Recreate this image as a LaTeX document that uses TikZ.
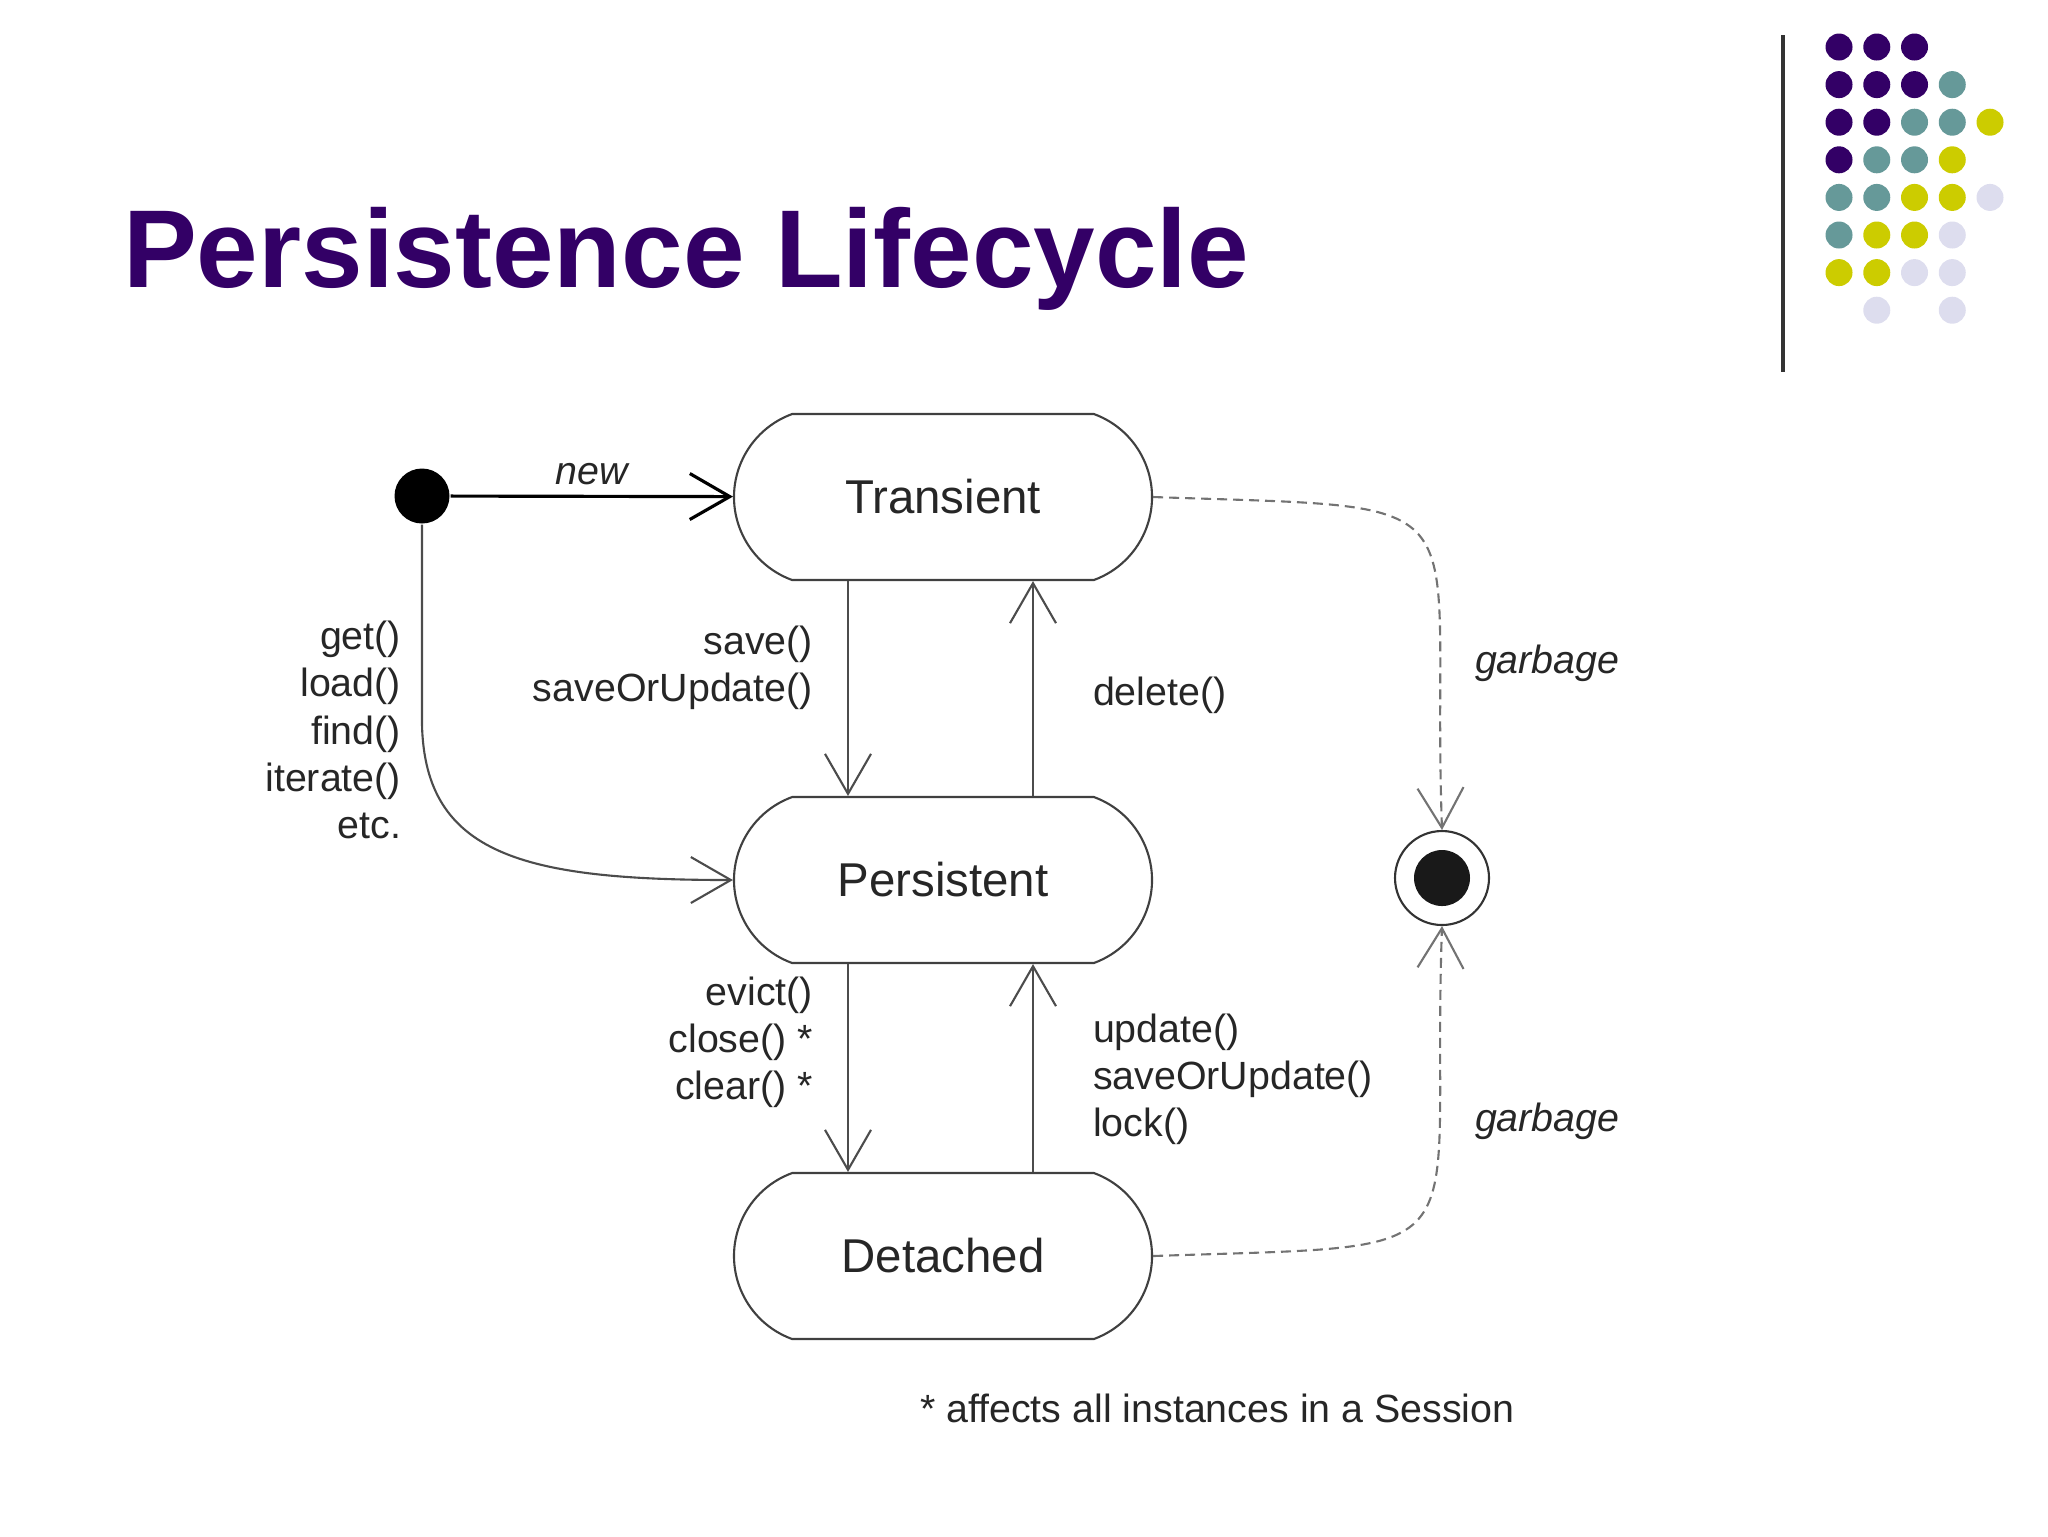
\documentclass[tikz,border=0pt]{standalone}
\usepackage{fontspec}
\setmainfont{Liberation Sans}
\usetikzlibrary{arrows.meta, positioning, shapes.misc}

\definecolor{titlepurple}{HTML}{330066}
\definecolor{dotP}{HTML}{330066}
\definecolor{dotT}{HTML}{669999}
\definecolor{dotY}{HTML}{CCCC00}
\definecolor{dotL}{HTML}{DDDDEE}

\begin{document}
\begin{tikzpicture}[
  x=0.1mm, y=-0.1mm,
  line width=0.6pt,
  state/.style={draw=black!75, rounded rectangle, rounded rectangle arc length=140,
    minimum width=41.8mm, minimum height=16.6mm, inner sep=0pt,
    font=\fontsize{13.5}{16}\selectfont, text=black!85},
  lbl/.style={font=\fontsize{11.2}{13.4}\selectfont, inner sep=0pt, text=black!85},
  trans/.style={draw=black!70, -{Straight Barb[length=4mm, width=4.6mm]}},
  gc/.style={trans, draw=black!55, dash pattern=on 1mm off 0.6mm},
  dot/.style={fill, circle, inner sep=0pt},
]
  \useasboundingbox (0,0) rectangle (2048,1536);

  % Title and slide decoration
  \node[anchor=base west, inner sep=0pt, text=titlepurple,
        font=\fontsize{31.5}{36}\selectfont\bfseries] (title) at (122,287) {Persistence Lifecycle};
  \draw[line width=1.2pt, black!80] (1783,35) -- (1783,372);
  \foreach \c [count=\i from 0] in {P,P,P,N,N, P,P,P,T,N, P,P,T,T,Y, P,T,T,Y,N,
                                   T,T,Y,Y,L, T,Y,Y,L,N, Y,Y,L,L,N, N,L,N,L,N} {
    \pgfmathtruncatemacro{\r}{int(\i/5)}
    \pgfmathtruncatemacro{\k}{mod(\i,5)}
    \if N\c\else
      \fill[dot\c] (1839+37.75*\k, 47+37.6*\r) circle[radius=1.35mm];
    \fi
  }

  % States
  \node[dot, minimum size=5.5mm] (init) at (422,496) {};
  \node[state] (trans) at (943,497) {Transient};
  \node[state] (pers)  at (943,880) {Persistent};
  \node[state] (det)   at (943,1256) {Detached};
  \node[circle, draw=black!80, minimum size=9.4mm, inner sep=0pt] (final) at (1442,878) {};
  \node[dot, minimum size=5.6mm, black!90] (finaldot) at (final) {};

  % Transitions
  \draw[trans, draw=black, line width=0.9pt] (init) -- node[lbl, above=1mm, font=\fontsize{11.2}{13.4}\selectfont\itshape] {new} (trans);
  \draw[trans] (init.south) -- ++(0,200) .. controls +(3,130) and +(-210,0) .. (pers.west);
  \draw[trans] ([xshift=-9.5mm]trans.south) -- ([xshift=-9.5mm]pers.north);
  \draw[trans] ([xshift=9mm]pers.north) -- ([xshift=9mm]trans.south);
  \draw[trans] ([xshift=-9.5mm]pers.south) -- ([xshift=-9.5mm]det.north);
  \draw[trans] ([xshift=9mm]det.north) -- ([xshift=9mm]pers.south);
  \draw[gc] (trans.east) to[out=-2, in=92, looseness=2] (final.north);
  \draw[gc] (det.east) to[out=2, in=-92, looseness=2] (final.south);

  % Labels
  \node[lbl, align=right, anchor=east] (getlbl) at (402,730) {get()\\load()\\find()\\iterate()\\etc.};
  \node[lbl, align=right, anchor=east] (savelbl) at (814,668) {save()\\saveOrUpdate()};
  \node[lbl, anchor=west] (dellbl) at (1092,695) {delete()};
  \node[lbl, align=right, anchor=east] (evictlbl) at (814,1042) {evict()\\close() *\\clear() *};
  \node[lbl, align=left, anchor=west] (updlbl) at (1092,1079) {update()\\saveOrUpdate()\\lock()};
  \node[lbl, anchor=west, font=\fontsize{11.2}{13.4}\selectfont\itshape] (gc1) at (1474,663) {garbage};
  \node[lbl, anchor=west, font=\fontsize{11.2}{13.4}\selectfont\itshape] (gc2) at (1474,1121) {garbage};
  \node[lbl, anchor=west] (note) at (919,1408) {* affects all instances in a Session};
\end{tikzpicture}
\end{document}
